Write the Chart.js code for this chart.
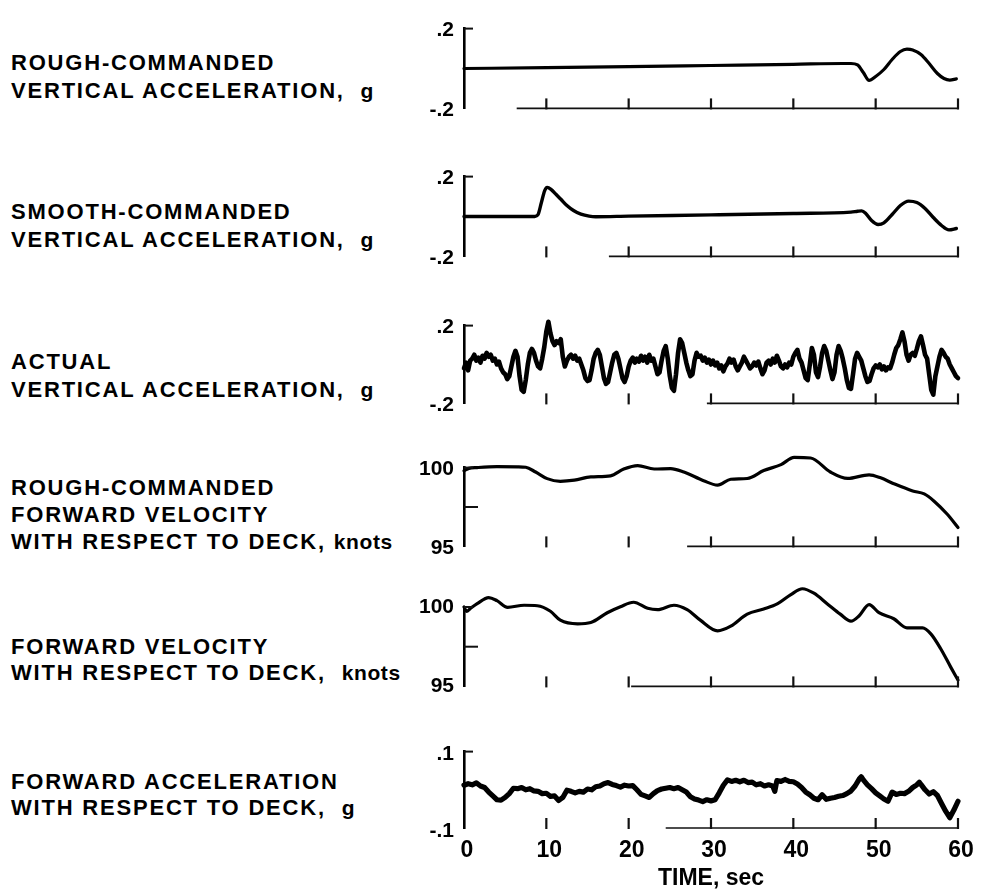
<!DOCTYPE html>
<html>
<head>
<meta charset="utf-8">
<script src="https://cdn.jsdelivr.net/npm/chart.js@4.4.1/dist/chart.umd.min.js"></script>
<style>
  html, body { margin: 0; padding: 0; background: #fff; }
  #page { position: relative; width: 984px; height: 893px; overflow: hidden;
          font-family: "Liberation Sans", Arial, Helvetica, sans-serif; }
  .lbl { position: absolute; left: 11px; font-weight: bold; font-size: 22px;
         letter-spacing: 1.8px; color: #000; white-space: pre; }
  .lbl .unit { font-size: 21px; letter-spacing: 0.6px; }
  canvas { position: absolute; }
</style>
</head>
<body>
<div id="page"></div>
<script>
// ---- time axis ----
const TIME_TICKS = [0, 10, 20, 30, 40, 50, 60];
const TIME_TITLE = 'TIME, sec';

// ---- rough-commanded vertical acceleration, g ----
const roughVertTime  = [0, 10, 20, 30, 40, 46, 47, 47.8, 48.5, 49.2, 50, 51, 52, 53, 53.8, 54.5, 55.5, 56.5, 57.5, 58.3, 59, 59.8];
const roughVertAccel = [0, 0.004, 0.009, 0.015, 0.021, 0.025, 0.025, 0.018, -0.02, -0.06, -0.04, -0.005, 0.045, 0.085, 0.097, 0.093, 0.07, 0.025, -0.025, -0.05, -0.058, -0.052];

// ---- smooth-commanded vertical acceleration, g ----
const smoothVertTime  = [0, 8.6, 9.0, 9.4, 9.8, 10.1, 10.6, 11.2, 11.8, 12.5, 13.3, 14.2, 15.2, 16, 20, 30, 40, 47, 47.8, 48.3, 48.8, 49.5, 50.3, 51, 52, 53, 54, 55, 56, 57, 58, 58.9, 59.8];
const smoothVertAccel = [0, 0, 0.01, 0.07, 0.13, 0.146, 0.135, 0.11, 0.085, 0.055, 0.03, 0.012, 0.002, -0.001, 0.002, 0.008, 0.015, 0.022, 0.026, 0.028, 0.015, -0.02, -0.04, -0.032, 0.01, 0.055, 0.077, 0.07, 0.04, -0.005, -0.045, -0.067, -0.06];

// ---- actual vertical acceleration, g (sampled every 0.25 s) ----
const actualVertStep = 0.25;
const actualVertAccel = [
  -0.02, 0.01, -0.03, 0.02, 0.03, 0.05, 0.02, 0.035, 0.01, 0.045, 0.03, 0.06, 0.04, 0.05, 0.02, 0.03, 0.0, 0.015, -0.02, -0.04,
  -0.05, -0.075, -0.06, -0.01, 0.04, 0.07, 0.04, -0.06, -0.13, -0.14, -0.08, 0.0, 0.06, 0.08, 0.06, 0.02, -0.01, -0.02, 0.03, 0.09,
  0.17, 0.22, 0.16, 0.12, 0.10, 0.12, 0.11, 0.13, 0.04, -0.01, 0.02, 0.04, 0.05, 0.03, 0.045, 0.02, 0.03, 0.0, -0.03, -0.07,
  -0.085, -0.08, -0.03, 0.03, 0.06, 0.075, 0.05, -0.01, -0.07, -0.1, -0.09, -0.04, 0.01, 0.05, 0.06, 0.03, -0.02, -0.07, -0.09, -0.06,
  -0.01, 0.02, 0.035, 0.01, 0.03, 0.015, 0.045, 0.02, 0.04, 0.01, 0.05, 0.02, 0.03, -0.01, -0.05, -0.04, 0.02, 0.07, 0.095, 0.03,
  -0.06, -0.12, -0.135, -0.05, 0.06, 0.13, 0.11, 0.06, 0.01, -0.03, -0.06, -0.05, 0.02, 0.06, 0.04, 0.045, 0.02, 0.035, 0.01, 0.025,
  0.0, 0.02, -0.005, 0.01, -0.02, -0.005, -0.035, -0.01, 0.005, 0.03, 0.01, 0.025, -0.01, -0.03, -0.01, 0.01, 0.04, 0.02, 0.0, -0.02,
  -0.01, 0.01, -0.005, 0.015, -0.02, -0.05, -0.03, 0.01, 0.02, 0.0, 0.03, 0.01, 0.045, 0.02, -0.01, -0.02, 0.0, -0.015, 0.01, 0.0,
  0.04, 0.06, 0.075, 0.03, 0.01, -0.03, -0.07, -0.08, 0.0, 0.085, 0.05, -0.04, -0.065, -0.01, 0.06, 0.095, 0.07, 0.02, -0.03, -0.075,
  -0.04, 0.05, 0.095, 0.07, 0.03, -0.02, -0.08, -0.12, -0.125, -0.05, 0.03, 0.06, 0.04, 0.02, -0.02, -0.06, -0.09, -0.085, -0.05, -0.02,
  -0.005, -0.015, 0.0, -0.025, -0.01, -0.03, -0.015, -0.02, 0.01, 0.05, 0.085, 0.1, 0.13, 0.165, 0.12, 0.05, 0.02, 0.05, 0.06, 0.045,
  0.08, 0.12, 0.145, 0.1, 0.05, 0.03, -0.05, -0.13, -0.155, -0.06, -0.01, 0.04, 0.075, 0.06, 0.04, 0.03, 0.0, -0.02, -0.04, -0.06,
  -0.07
];

// ---- rough-commanded forward velocity w.r.t. deck, knots ----
const roughFwdTime = [0, 0.6, 1.6, 4.0, 6.5, 7.5, 8.7, 10.1, 11.7, 13.4, 15.4, 17.8, 19.4, 21.1, 23.1, 25.1, 26.7, 29.1, 30.8, 32.4, 34.4, 36.4, 38.5, 40.1, 42.1, 44.5, 46.6, 49.2, 50.6, 52.2, 54.5, 55.9, 57.1, 58.7, 60];
const roughFwdVel  = [99.8, 99.95, 100.0, 100.06, 100.05, 100.02, 99.72, 99.3, 99.13, 99.2, 99.41, 99.48, 99.91, 100.13, 99.91, 99.94, 99.72, 99.17, 98.89, 99.26, 99.31, 99.81, 100.19, 100.65, 100.61, 99.72, 99.31, 99.54, 99.35, 98.98, 98.52, 98.33, 97.87, 97.04, 96.2];

// ---- forward velocity w.r.t. deck, knots ----
const fwdVelTime = [0, 0.3, 0.8, 1.6, 3.0, 4.0, 5.3, 7.3, 8.9, 10.5, 11.7, 13.8, 15.4, 17.4, 19.0, 20.6, 22.3, 23.5, 25.5, 27.1, 28.7, 30.8, 32.4, 34.4, 36.4, 38.1, 39.7, 41.1, 42.5, 44.1, 45.7, 47.0, 48.0, 49.2, 50.4, 52.2, 53.8, 55.7, 56.7, 57.9, 59.1, 60];
const fwdVel     = [100.0, 99.73, 99.92, 100.21, 100.59, 100.4, 99.98, 100.11, 100.08, 99.73, 99.17, 98.94, 99.02, 99.64, 100.02, 100.3, 99.92, 99.83, 100.11, 99.83, 99.17, 98.5, 98.79, 99.55, 99.87, 100.21, 100.78, 101.15, 100.87, 100.21, 99.55, 99.11, 99.45, 100.15, 99.64, 99.26, 98.69, 98.69, 98.31, 97.37, 96.23, 95.4];

// ---- forward acceleration w.r.t. deck, g ----
const fwdAccelTime = [
  0, 0.5, 1, 1.5, 2, 2.5, 3, 3.5, 4, 4.5, 5, 5.5, 6, 6.5, 7, 7.5, 8, 8.5, 9, 9.5,
  10, 10.5, 11, 11.5, 12, 12.5, 13, 13.5, 14, 14.5, 15, 15.5, 16, 16.5, 17, 17.5, 18, 18.5, 19, 19.5,
  20, 20.5, 21, 21.5, 22, 22.5, 23, 23.5, 24, 24.5, 25, 25.5, 26, 26.5, 27, 27.5, 28, 28.5, 29, 29.5,
  30, 30.5, 31, 31.5, 32, 32.5, 33, 33.5, 34, 34.5, 35, 35.5, 36, 36.5, 37, 37.5, 37.75, 38, 38.5, 39, 39.5,
  40, 40.5, 41, 41.5, 42, 42.5, 43, 43.5, 44, 44.5, 45, 45.5, 46, 46.5, 47, 47.5, 48, 48.25, 48.5, 49, 49.5,
  50, 50.5, 51, 51.5, 52, 52.5, 53, 53.5, 54, 54.5, 55, 55.3, 55.5, 56, 56.5, 57, 57.5, 58, 58.5, 59, 59.5, 60
];
const fwdAccel = [
  0.012, 0.016, 0.013, 0.018, 0.01, 0.006, -0.006, -0.016, -0.026, -0.027, -0.02, -0.01, 0.004, 0.003, 0.006, 0.0, 0.003, -0.003, -0.004, -0.01,
  -0.009, -0.017, -0.016, -0.028, -0.02, -0.001, -0.004, -0.008, -0.004, -0.006, 0.002, 0.0, 0.008, 0.01, 0.016, 0.019, 0.014, 0.011, 0.007, 0.012,
  0.01, 0.011, 0.0, -0.012, -0.016, -0.02, -0.01, -0.002, 0.002, 0.004, 0.006, 0.003, 0.006, 0.0, -0.006, -0.018, -0.024, -0.027, -0.031, -0.026,
  -0.029, -0.026, -0.008, 0.012, 0.026, 0.022, 0.025, 0.021, 0.025, 0.019, 0.02, 0.013, 0.016, 0.01, 0.013, 0.01, -0.004, 0.024, 0.022, 0.027, 0.022,
  0.021, 0.015, 0.006, -0.006, -0.013, -0.022, -0.026, -0.013, -0.025, -0.022, -0.02, -0.017, -0.015, -0.01, -0.003, 0.01, 0.028, 0.034, 0.026, 0.013, 0.003,
  -0.008, -0.016, -0.024, -0.03, -0.006, -0.012, -0.009, -0.01, -0.004, 0.006, 0.013, 0.02, 0.014, 0.0, -0.011, -0.005, -0.015, -0.036, -0.056, -0.073, -0.053, -0.03
];

// ---- captions (unit word set apart), y-axis end labels, top to bottom ----
const panelCaptions = [
  ['ROUGH-COMMANDED', 'VERTICAL ACCELERATION,  '],
  ['SMOOTH-COMMANDED', 'VERTICAL ACCELERATION,  '],
  ['ACTUAL', 'VERTICAL ACCELERATION,  '],
  ['ROUGH-COMMANDED', 'FORWARD VELOCITY', 'WITH RESPECT TO DECK, '],
  ['FORWARD VELOCITY', 'WITH RESPECT TO DECK,  '],
  ['FORWARD ACCELERATION', 'WITH RESPECT TO DECK,  ']
];
const panelUnits = ['g', 'g', 'g', 'knots', 'knots', 'g'];
const yRanges    = [[-0.2, 0.2], [-0.2, 0.2], [-0.2, 0.2], [95, 100], [95, 100], [-0.1, 0.1]];
const yEndLabels = [['-.2', '.2'], ['-.2', '.2'], ['-.2', '.2'], ['95', '100'], ['95', '100'], ['-.1', '.1']];
const yMidTicks  = [null, null, null, 97.5, 97.5, null];

// ---------------------------------------------------------------
const pairs = (xs, ys) => ys.map((v, i) => ({ x: xs[i], y: v }));
const actualVertTime = actualVertAccel.map((_, i) => i * actualVertStep);

const series = [
  pairs(roughVertTime, roughVertAccel),
  pairs(smoothVertTime, smoothVertAccel),
  pairs(actualVertTime, actualVertAccel),
  pairs(roughFwdTime, roughFwdVel),
  pairs(fwdVelTime, fwdVel),
  pairs(fwdAccelTime, fwdAccel)
];

// page layout of each strip (pixels)
const layout = [
  { top: 20,  bottom: 117, padTop: 14, cap: 49,  capLH: 28, smooth: true,  width: 3.2, baseFrom: 6.4,  lblOff: 2 },
  { top: 168, bottom: 265, padTop: 14, cap: 198, capLH: 28, smooth: true,  width: 3.4, baseFrom: 17.6, lblOff: 2 },
  { top: 317, bottom: 412, padTop: 14, cap: 348, capLH: 28, smooth: false, width: 4.6, baseFrom: 29.5, lblOff: 2 },
  { top: 465, bottom: 555, padTop: 20, cap: 474, capLH: 27, smooth: true,  width: 3.2, baseFrom: 27.1, lblOff: 2 },
  { top: 607, bottom: 695, padTop: 28, cap: 634, capLH: 26, smooth: true,  width: 3.2, baseFrom: 20.3, lblOff: 0 },
  { top: 743, bottom: 828, padTop: 14, cap: 769, capLH: 26, smooth: false, width: 5.2, baseFrom: 24.5, lblOff: 3 }
];

const CANVAS_LEFT = 380, CANVAS_W = 604, AXIS_W = 84, PAD_RIGHT = 26, PAD_BOTTOM = 14, XAXIS_H = 65;
const FONT = '"Liberation Sans", Arial, Helvetica, sans-serif';

// partial baseline, inward time ticks and inward value ticks
const stripMarks = {
  id: 'stripMarks',
  afterDatasetsDraw(chart, args, o) {
    const { ctx } = chart;
    const x = chart.scales.x, y = chart.scales.y;
    const yb = y.getPixelForValue(y.min);
    const x0 = x.getPixelForValue(x.min);
    ctx.save();
    ctx.strokeStyle = '#111';
    ctx.lineCap = 'butt';
    ctx.lineWidth = 1.6;
    ctx.beginPath();
    ctx.moveTo(x.getPixelForValue(o.baseFrom), yb);
    ctx.lineTo(x.getPixelForValue(x.max) + 1, yb);
    ctx.stroke();
    ctx.lineWidth = 2.2;
    TIME_TICKS.forEach(t => {
      if (t <= x.min) return;
      const px = x.getPixelForValue(t);
      ctx.beginPath();
      ctx.moveTo(px, yb + 1);
      ctx.lineTo(px, yb - 10);
      ctx.stroke();
    });
    ctx.lineWidth = 2;
    const yt = y.getPixelForValue(y.max);
    ctx.beginPath();
    ctx.moveTo(x0, yt);
    ctx.lineTo(x0 + 9, yt);
    ctx.stroke();
    if (o.mid !== null) {
      const pm = y.getPixelForValue(o.mid);
      ctx.beginPath();
      ctx.moveTo(x0, pm);
      ctx.lineTo(x0 + 14, pm);
      ctx.stroke();
    }
    ctx.restore();
  }
};

const page = document.getElementById('page');

layout.forEach((L, i) => {
  // caption
  const cap = document.createElement('div');
  cap.className = 'lbl';
  cap.style.top = L.cap + 'px';
  cap.style.lineHeight = L.capLH + 'px';
  const lines = panelCaptions[i];
  lines.forEach((line, k) => {
    cap.appendChild(document.createTextNode(line));
    if (k === lines.length - 1) {
      const u = document.createElement('span');
      u.className = 'unit';
      u.textContent = panelUnits[i];
      cap.appendChild(u);
    } else {
      cap.appendChild(document.createTextNode('\n'));
    }
  });
  page.appendChild(cap);

  const last = i === layout.length - 1;
  const [ymin, ymax] = yRanges[i];
  const padBottom = last ? 0 : PAD_BOTTOM;
  const canvasTop = L.top - L.padTop;
  const canvasH = last ? (893 - canvasTop) : (L.bottom - L.top + L.padTop + padBottom);

  const cv = document.createElement('canvas');
  cv.width = CANVAS_W; cv.height = canvasH;
  cv.style.left = CANVAS_LEFT + 'px';
  cv.style.top = canvasTop + 'px';
  cv.style.width = CANVAS_W + 'px';
  cv.style.height = canvasH + 'px';
  page.appendChild(cv);

  new Chart(cv, {
    type: 'line',
    data: {
      datasets: [{
        data: series[i],
        borderColor: '#000',
        borderWidth: L.width,
        pointRadius: 0,
        fill: false,
        clip: false,
        tension: L.smooth ? 0.4 : 0,
        cubicInterpolationMode: L.smooth ? 'monotone' : 'default',
        borderJoinStyle: 'round',
        borderCapStyle: 'round'
      }]
    },
    options: {
      responsive: false,
      maintainAspectRatio: false,
      animation: false,
      events: [],
      layout: { padding: { left: 0, right: PAD_RIGHT, top: L.padTop, bottom: padBottom } },
      plugins: {
        legend: { display: false },
        tooltip: { enabled: false },
        stripMarks: { baseFrom: L.baseFrom, mid: yMidTicks[i] }
      },
      scales: {
        x: {
          type: 'linear',
          min: TIME_TICKS[0],
          max: TIME_TICKS[TIME_TICKS.length - 1],
          display: last,
          afterBuildTicks: s => { s.ticks = TIME_TICKS.map(v => ({ value: v })); },
          afterFit: s => { if (last) s.height = XAXIS_H; },
          grid: { display: false, drawTicks: false },
          border: { display: false },
          ticks: {
            color: '#000',
            padding: 9,
            maxRotation: 0,
            autoSkip: false,
            labelOffset: 3,
            font: { family: FONT, size: 23, weight: 'bold' }
          },
          title: {
            display: last,
            text: TIME_TITLE,
            color: '#000',
            padding: { top: 0, bottom: 1 },
            font: { family: FONT, size: 23, weight: 'bold' }
          }
        },
        y: {
          type: 'linear',
          min: ymin,
          max: ymax,
          afterBuildTicks: s => { s.ticks = [{ value: ymin }, { value: ymax }]; },
          afterFit: s => { s.width = AXIS_W; },
          grid: { display: false, drawTicks: false },
          border: { display: true, color: '#000', width: 2.6 },
          ticks: {
            color: '#000',
            padding: 10,
            autoSkip: false,
            labelOffset: L.lblOff,
            font: { family: FONT, size: 21, weight: 'bold' },
            callback: v => (v === ymax ? yEndLabels[i][1] : yEndLabels[i][0])
          }
        }
      }
    },
    plugins: [stripMarks]
  });
});
</script>
</body>
</html>
